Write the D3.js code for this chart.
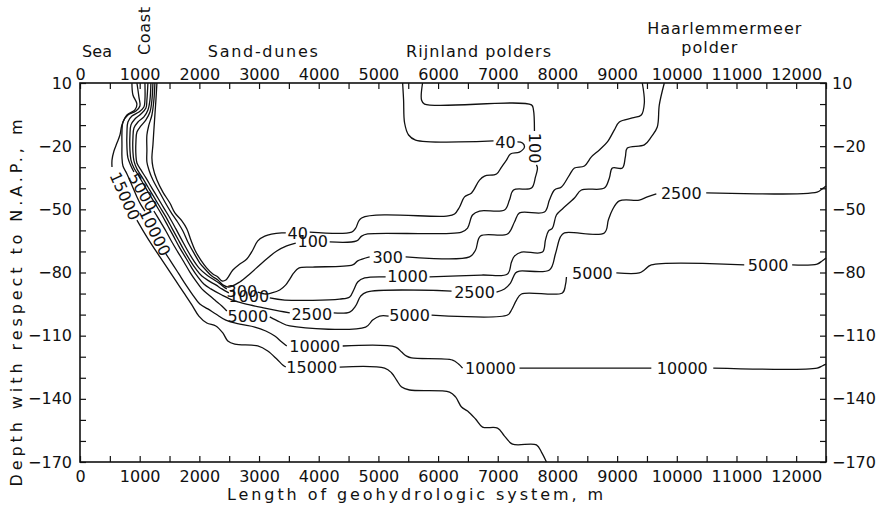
<!DOCTYPE html>
<html><head><meta charset="utf-8">
<script src="https://cdn.jsdelivr.net/npm/d3@7"></script>
<style>
body{margin:0;background:#fff}
text{font-family:"DejaVu Sans","Liberation Sans",Arial,sans-serif;fill:#111}
</style>
</head><body>
<svg id="c" width="876" height="509"></svg>
<script>
// ---------- data ----------
const xMajor = d3.range(0, 12001, 1000);
const xMinor = d3.range(0, 12501, 500);
const yMajor = [10, -20, -50, -80, -110, -140, -170];
const yMinor = d3.range(-170, 11, 10);

const regionLabels = [["Sea", 285], ["Coast", 1054], ["Sand-dunes", 3063], ["Rijnland polders", 6677], ["Haarlemmermeer", 10795], ["polder", 10544]];

// contour segments: [length m, depth m]
const c40 = [
 [[1289,10],[1272,1.9],[1255,-5.2],[1238,-12.3],[1222,-19.4],[1205,-25.6],[1222,-29.9],[1289,-36.1],[1389,-41.8],[1506,-47.0],[1590,-51.7],[1707,-55.5],[1791,-59.3],[1858,-64.6],[1925,-69.3],[2025,-74.1],[2125,-77.9],[2226,-80.7],[2310,-82.1],[2377,-84.0],[2443,-83.6],[2561,-78.8],[2678,-76.0],[2795,-73.6],[2895,-69.3],[2979,-65.0],[3096,-62.7],[3381,-61.2],[3448,-61.2]],
 [[3849,-60.8],[4552,-60.8],[4619,-58.9],[4719,-54.1],[6142,-53.2],[6276,-52.2],[6360,-48.9],[6443,-44.1],[6561,-42.2],[6694,-36.1],[6778,-34.2],[6979,-33.2],[7063,-29.9],[7146,-26.6],[7213,-23.7],[7364,-22.8],[7447,-20.4],[7414,-18.5],[7330,-18.0]],
 [[6929,-17.5],[5623,-17.1],[5506,-14.7],[5439,-9.0],[5422,1.9],[5406,10]]
];
const c100 = [
 [[1255,10],[1238,1.9],[1205,-5.2],[1155,-9.9],[1121,-14.7],[1121,-21.8],[1121,-27.5],[1155,-31.3],[1222,-36.1],[1322,-41.3],[1423,-46.5],[1523,-51.3],[1623,-55.5],[1724,-60.3],[1807,-65.5],[1908,-70.7],[2008,-75.5],[2109,-78.8],[2209,-81.7],[2310,-83.6],[2393,-85.9],[2494,-86.9],[2678,-84.5],[2845,-80.7],[3012,-76.4],[3146,-73.1],[3297,-69.8],[3464,-67.4],[3615,-66.0]],
 [[4184,-65.5],[4636,-65.0],[4719,-62.7],[4820,-61.7],[6393,-60.8],[6494,-58.9],[6577,-52.7],[6694,-50.8],[7113,-50.3],[7196,-45.6],[7264,-40.8],[7565,-39.9],[7632,-34.6],[7665,-30.4],[7648,-28.9]],
 [[7615,-12.8],[7598,-2.8],[7565,-0.4],[5773,0.0],[5723,1.9],[5740,10]]
];
const c300 = [
 [[1222,10],[1205,1.9],[1172,-3.8],[1105,-7.5],[1021,-10.4],[954,-13.3],[937,-18.0],[937,-24.2],[954,-28.0],[1021,-31.3],[1105,-35.1],[1205,-39.9],[1305,-44.6],[1406,-49.4],[1506,-54.1],[1607,-59.3],[1707,-64.6],[1807,-69.8],[1908,-74.5],[2008,-78.3],[2125,-81.2],[2226,-83.1],[2326,-85.0],[2410,-86.9],[2460,-87.8]],
 [[2979,-89.3],[3113,-90.2],[3213,-89.7],[3347,-88.3],[3448,-85.9],[3515,-83.1],[3582,-80.2],[3665,-77.9],[3900,-77.4],[4569,-76.4],[4653,-74.5],[4853,-72.6]],
 [[5456,-72.6],[6527,-72.6],[6628,-69.3],[6711,-62.7],[7163,-61.7],[7280,-56.0],[7364,-51.7],[7782,-51.3],[7866,-45.6],[7950,-40.8],[8067,-39.4],[8201,-33.7],[8285,-30.4],[8452,-29.4],[8569,-25.1],[8703,-21.8],[8837,-18.0],[8954,-12.3],[9037,-8.5],[9255,-6.6],[9405,-5.2],[9456,0.5],[9422,10]]
];
const c1000 = [
 [[1188,10],[1172,1.9],[1138,-2.8],[1071,-6.1],[971,-8.5],[904,-11.4],[887,-16.1],[887,-22.8],[904,-27.0],[954,-30.8],[1038,-34.6],[1138,-39.4],[1238,-44.1],[1339,-48.9],[1439,-53.6],[1540,-58.9],[1640,-64.1],[1741,-69.3],[1841,-74.1],[1941,-78.3],[2042,-81.7],[2159,-84.0],[2276,-85.9],[2377,-87.8],[2494,-89.7]],
 [[3180,-92.1],[3431,-93.1],[4351,-92.6],[4519,-91.6],[4586,-88.3],[4653,-84.5],[4770,-82.6],[5121,-82.1]],
 [[5857,-82.1],[6728,-81.2],[7163,-80.7],[7230,-75.0],[7280,-72.2],[7397,-70.3],[7749,-70.3],[7799,-64.6],[7849,-60.3],[7916,-58.9],[7983,-52.7],[8083,-49.8],[8285,-44.6],[8402,-40.8],[8786,-39.9],[8870,-35.1],[8920,-30.4],[9088,-30.4],[9138,-25.1],[9171,-20.9],[9456,-19.4],[9573,-15.6],[9673,-10.9],[9707,-0.4],[9791,10]]
];
const c2500 = [
 [[1138,10],[1121,1.9],[1105,-1.9],[1021,-4.7],[920,-7.1],[854,-9.9],[837,-14.7],[837,-21.8],[854,-26.6],[904,-30.4],[987,-34.2],[1071,-38.4],[1172,-43.2],[1272,-47.9],[1372,-52.7],[1473,-57.9],[1573,-63.1],[1674,-68.4],[1774,-73.1],[1874,-77.9],[1975,-82.1],[2075,-85.5],[2192,-87.8],[2377,-90.7],[2594,-93.5],[2845,-95.4],[3096,-96.9],[3347,-98.3],[3515,-99.2]],
 [[4251,-99.2],[4519,-98.8],[4619,-95.9],[4703,-91.2],[4803,-89.3],[6226,-88.8]],
 [[6979,-89.3],[7113,-87.8],[7213,-85.0],[7297,-80.2],[7364,-79.3],[7866,-78.8],[7966,-71.2],[8050,-63.1],[8117,-61.2],[8786,-61.2],[8853,-55.1],[8920,-50.3],[9037,-46.0],[9372,-45.6],[9506,-44.1],[9657,-42.7]],
 [[10493,-42.2],[12351,-41.8],[12435,-40.3],[12500,-38.9]]
];
const c5000 = [
 [[1088,10],[1088,1.9],[1071,-1.4],[987,-3.8],[870,-5.7],[803,-8.5],[787,-13.3],[787,-20.9],[803,-25.6],[854,-29.4],[904,-32.3]],
 [[1238,-50.8],[1339,-55.5],[1439,-60.3],[1540,-65.5],[1640,-70.3],[1741,-75.0],[1841,-79.8],[1941,-84.0],[2042,-87.8],[2159,-90.7],[2276,-93.5],[2377,-95.9],[2460,-98.3]],
 [[3180,-101.1],[3347,-103.5],[3515,-105.4],[4786,-105.9],[4904,-102.6],[5021,-100.7],[5171,-100.7]],
 [[5891,-100.2],[7163,-100.2],[7230,-97.8],[7314,-93.1],[7397,-90.2],[8083,-89.7],[8134,-85.9],[8151,-82.1]],
 [[8987,-80.2],[9372,-80.2],[9456,-78.8],[9573,-76.4],[11130,-76.4]],
 [[11933,-76.4],[12351,-76.0],[12435,-74.5],[12500,-73.1]]
];
const c10000 = [
 [[954,10],[987,3.4],[1004,-0.9],[937,-3.3],[803,-5.2],[720,-8.5],[703,-13.3],[703,-19.4],[703,-25.1],[720,-29.4],[787,-33.2],[854,-37.5],[904,-40.8],[954,-44.1],[1021,-47.9],[1088,-50.8]],
 [[1439,-71.2],[1540,-75.5],[1657,-80.7],[1774,-85.9],[1891,-90.7],[2008,-95.0],[2142,-97.3],[2276,-99.7],[2443,-102.6],[2678,-104.5],[2929,-105.9],[3113,-107.8],[3264,-110.2],[3381,-113.0],[3464,-114.9]],
 [[4402,-114.9],[5289,-115.4],[5389,-117.8],[5473,-119.7],[5556,-120.6],[6243,-121.6],[6343,-123.5],[6410,-125.4]],
 [[7364,-125.4],[9573,-125.4]],
 [[10611,-125.4],[12351,-125.4],[12435,-124.4],[12500,-123.5]]
];
const c15000 = [
 [[870,10],[887,4.3],[954,0.0],[920,-2.8],[787,-5.2],[703,-9.9],[669,-14.7],[619,-18.5],[569,-22.3],[536,-26.6],[536,-29.9]],
 [[954,-55.1],[1071,-60.8],[1205,-66.9],[1339,-72.6],[1473,-78.3],[1607,-84.0],[1741,-89.7],[1874,-95.4],[1992,-100.7],[2125,-104.0],[2276,-105.4],[2393,-108.7],[2477,-112.5],[2594,-114.0],[2979,-114.9],[3146,-117.3],[3297,-121.1],[3397,-123.9],[3448,-124.9]],
 [[4351,-124.9],[5104,-125.4],[5222,-127.7],[5305,-131.1],[5389,-134.4],[5523,-135.8],[6192,-136.8],[6293,-139.1],[6393,-143.9],[6494,-145.8],[6628,-149.6],[6745,-153.4],[6996,-153.9],[7113,-157.7],[7247,-161.5],[7648,-161.9],[7732,-165.3],[7816,-170]]
];
const contours = [c40, c100, c300, c1000, c2500, c5000, c10000, c15000];

// contour labels: [text, length m, depth m, angle deg]
const contourLabels = [
 ["15000", 753, -43.7, 66], ["5000", 1054, -41.8, 60], ["10000", 1255, -60.8, 64],
 ["300", 2711, -88.8, 0], ["1000", 2828, -91.2, 0], ["5000", 2812, -100.7, 0],
 ["40", 3648, -61.2, 0], ["100", 3900, -65.0, 0], ["2500", 3883, -99.7, 0],
 ["10000", 3933, -114.9, 0], ["15000", 3883, -124.9, 0], ["300", 5155, -72.6, 0],
 ["1000", 5489, -81.7, 0], ["5000", 5523, -100.2, 0], ["2500", 6611, -89.3, 0],
 ["10000", 6879, -125.4, 0], ["40", 7130, -18.0, 0], ["100", 7615, -20.9, 90],
 ["5000", 8586, -80.2, 0], ["2500", 10075, -42.2, 0], ["5000", 11531, -76.4, 0],
 ["10000", 10092, -125.4, 0]
];

// ---------- drawing ----------
const INK = "#111";
const svg = d3.select("#c");
const x = d3.scaleLinear().domain([0, 12500]).range([80, 826]);
const y = d3.scaleLinear().domain([10, -170]).range([83, 462]);
const fmt = d => d < 0 ? "\u2212" + (-d) : String(d);

const line = d3.line().x(d => x(d[0])).y(d => y(d[1])).curve(d3.curveCatmullRom.alpha(0.5));
const gc = svg.append("g");
contours.forEach(c => c.forEach(seg => {
  gc.append("path").attr("d", line(seg)).attr("fill", "none")
    .attr("stroke", INK).attr("stroke-width", 1.3).attr("stroke-linejoin", "round");
}));

contourLabels.forEach(([t, lx, ly, a]) => {
  svg.append("text").attr("transform", `translate(${x(lx)},${y(ly)}) rotate(${a})`)
    .attr("text-anchor", "middle").attr("dy", "0.36em").attr("font-size", 16).text(t);
});

// frame
svg.append("rect").attr("x", x(0)).attr("y", y(10))
  .attr("width", x(12500) - x(0)).attr("height", y(-170) - y(10))
  .attr("fill", "none").attr("stroke", INK).attr("stroke-width", 1.6);

function styleAxis(g) {
  g.select(".domain").remove();
  g.attr("font-size", 16).attr("font-family", "DejaVu Sans, Liberation Sans, Arial, sans-serif").attr("color", INK);
  g.selectAll(".tick line").attr("stroke-width", 1.2);
}
const xFmt = d => xMajor.includes(d) ? String(d) : "";
const yFmt = d => yMajor.includes(d) ? fmt(d) : "";

svg.append("g").attr("transform", `translate(0,${y(-170)})`)
  .call(d3.axisBottom(x).tickValues(xMinor).tickSize(-6).tickPadding(9).tickFormat(xFmt)).call(styleAxis);
svg.append("g").attr("transform", `translate(0,${y(10)})`)
  .call(d3.axisTop(x).tickValues(xMinor).tickSize(-6).tickPadding(3).tickFormat(xFmt)).call(styleAxis);
svg.append("g").attr("transform", `translate(${x(0)},0)`)
  .call(d3.axisLeft(y).tickValues(yMinor).tickSize(-6).tickPadding(8).tickFormat(yFmt)).call(styleAxis);
svg.append("g").attr("transform", `translate(${x(12500)},0)`)
  .call(d3.axisRight(y).tickValues(yMinor).tickSize(-6).tickPadding(6).tickFormat(yFmt)).call(styleAxis);

// region labels above the top axis
const regionLayout = [
  {by: 57, len: 30, rot: 0},
  {by: 150, len: 48, rot: -90, cy: 31},
  {by: 57, len: 110, rot: 0},
  {by: 57, len: 145, rot: 0},
  {by: 34, len: 154, rot: 0},
  {by: 53, len: 56, rot: 0}
];
regionLabels.forEach(([t, at], i) => {
  const L = regionLayout[i];
  const tx = svg.append("text").attr("font-size", 16).attr("text-anchor", "middle")
    .attr("textLength", L.len).attr("lengthAdjust", "spacing").text(t);
  if (L.rot) tx.attr("transform", `translate(${L.by},${L.cy}) rotate(${L.rot})`);
  else tx.attr("x", x(at)).attr("y", L.by);
});

// axis titles
svg.append("text").attr("x", 415).attr("y", 500).attr("text-anchor", "middle")
  .attr("font-size", 16).attr("textLength", 376).attr("lengthAdjust", "spacing")
  .text("Length of geohydrologic system, m");
svg.append("text").attr("transform", "translate(22,303) rotate(-90)").attr("text-anchor", "middle")
  .attr("font-size", 16).attr("textLength", 367).attr("lengthAdjust", "spacing")
  .text("Depth with respect to N.A.P., m");
</script>
</body></html>
